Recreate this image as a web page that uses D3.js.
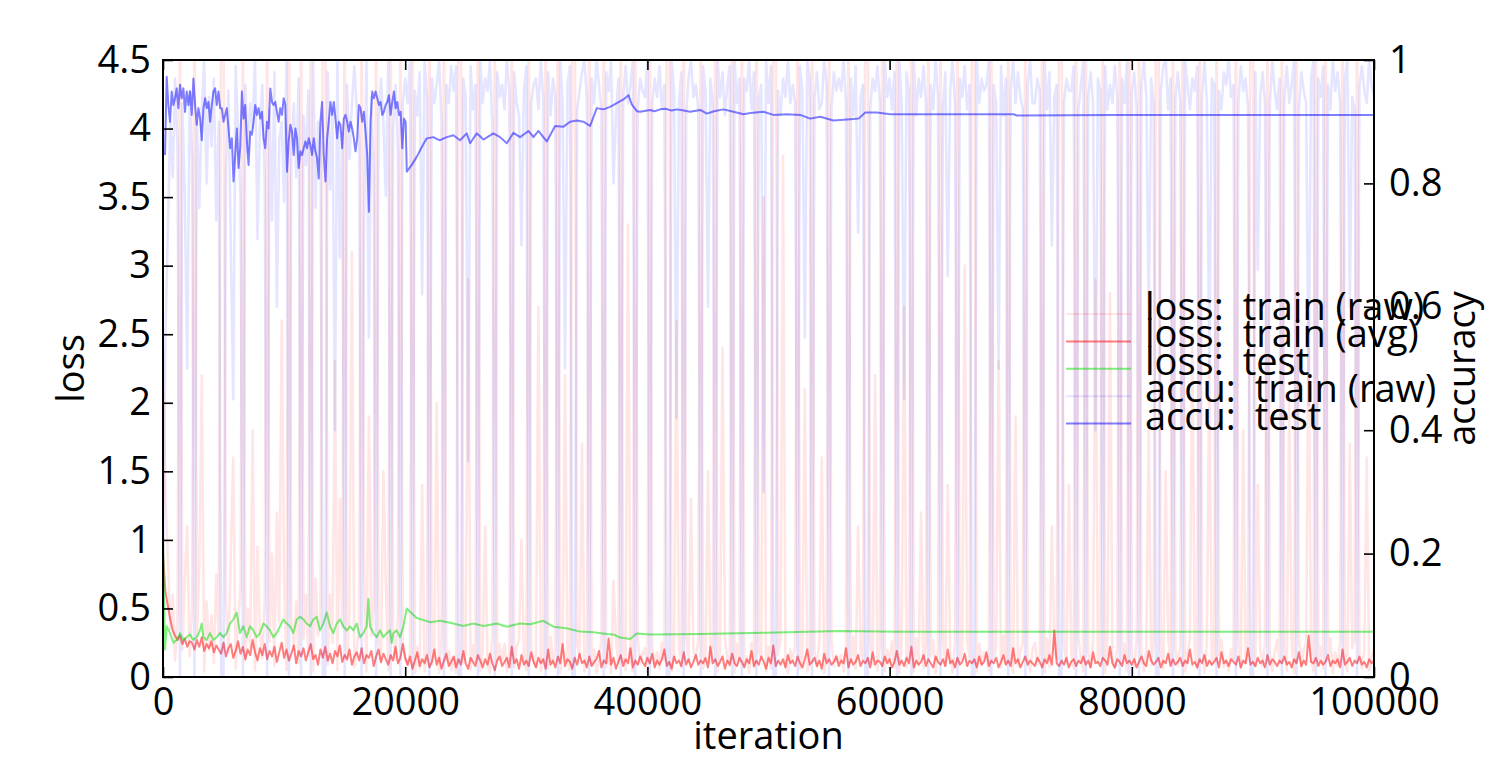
<!DOCTYPE html>
<html>
<head>
<meta charset="utf-8">
<script src="https://cdn.jsdelivr.net/npm/d3@7"></script>
<style>
  body { margin: 0; background: #fff; }
  text { font-family: "Open Sans", sans-serif; fill: #000; }
</style>
</head>
<body>
<svg id="chart" width="1494" height="757"></svg>
<script>
// raw training values, one every 200 iterations
const rawStep = 200;
const lossTrainRaw = [
  2.4,1.3,.9,.35,.6,.12,.45,5,.2,.7,1.1,.15,.5,5,.3,.8,2.2,.04,.55,.2,
  .45,.1,.75,.3,5,4.7,.55,.18,.9,1.6,.06,.4,.65,5,.12,.5,.22,1.8,.05,.95,
  .33,.14,.58,5,.26,.9,.08,1.2,.4,2.6,.7,.05,5,.45,.2,.55,.1,5,.28,.6,
  .16,5,.04,.72,.3,.42,5,5,.09,.6,.25,2.3,.05,1.3,.36,5,.12,.48,3.1,.07,
  .2,.38,5,.8,.04,1.9,.3,.52,5,.27,.1,1.5,.66,.05,5,.34,.13,.45,5,.24,
  .14,.08,.18,5,.03,.22,.06,1.4,.04,.15,5,.09,.16,2,.03,.28,5,.12,.19,.05,
  .14,.03,5,5,.1,.17,2.9,.05,.23,.11,5,.04,.2,1.1,.09,.03,.31,5,.12,.24,
  .12,.24,.04,.18,5,.07,.22,.27,1,.16,.05,5,.21,.12,.08,2.7,.04,.14,5,.06,
  .29,.1,.19,5,.03,.22,2.2,.13,.05,5,5,.24,.15,1.7,.04,.18,5,.09,.2,.03,
  .13,.26,5,.07,.16,.03,.7,.28,.1,5,.19,.05,3.3,.14,.04,5,.27,.1,.17,.21,
  .03,5,.21,.09,.18,.06,.25,.12,5,5,.04,.16,2.6,.23,.07,5,.3,.11,1.3,.19,
  .14,.26,5,.06,.17,1.5,.1,.22,5,.04,.2,2.4,.29,.13,.08,5,.03,.24,.11,5,
  .09,.15,.03,.25,.07,5,.18,.13,3.5,.04,.22,.06,5,5,.16,.28,3.8,.1,.03,.2,
  .12,.23,5,.06,.15,2.1,.04,.1,5,.19,.07,.27,1.6,.03,.13,5,.26,.08,.16,.11,
  .16,.04,.22,5,.11,.29,.06,1.1,.19,.13,5,5,.25,.09,2.2,.05,.23,5,.04,.2,
  .1,.26,.07,5,.03,.24,2.7,.07,.18,5,.04,.28,.1,1.2,.06,.23,5,.15,.27,.03,
  .2,5,.27,.08,1.4,.17,.03,.25,5,.11,.2,3,.26,.14,5,5,.04,.24,.09,.18,
  .15,.04,5,.13,.22,2.3,.07,.3,.1,5,.16,.03,1.9,.08,.19,.25,5,.12,.04,.2,
  .25,.09,.17,5,.03,.28,.07,1.1,.2,.13,5,5,.24,.1,1.4,.18,.06,5,.27,.14,
  .04,5,.19,.07,.26,2.9,.11,.16,5,.03,.28,2.8,.13,.06,.21,5,.1,.24,.04,5,
  .17,.07,.27,5,.14,.04,.2,1.8,.09,.25,5,5,.18,.06,1.5,.29,.11,5,.2,.08,
  .24,5,.04,.15,.28,2.5,.18,.06,5,.21,.03,.25,2.3,.09,.16,5,.16,.27,.07,.12,
  .04,.2,.13,5,.26,.06,1.8,.1,.28,5,5,.08,1.4,.21,.08,.25,5,.14,.04,.18,
  .27,.1,5,.19,.05,2,.24,.03,5,.29,.07,.2,.25,2.6,.15,.04,5,.11,.22,.06,
  5,.16,.28,.03,.18,.08,.26,5,.12,.04,1.7,.21,.27,5,.13,.06,.19,1.6,.05,.15,.2
];
const accTrainRaw = [
  .1,.55,.72,.9,.81,.97,.86,0,.93,.78,.5,.95,.84,0,.9,.76,.92,1,.8,.94,
  .86,.97,.74,.9,0,0,.82,.95,.7,.45,.99,.88,.78,0,.96,.85,.93,.89,1,.71,
  .89,.96,.8,0,.92,.74,.98,.6,.87,.9,.77,1,0,.85,.93,.81,.97,0,.91,.83,
  .95,0,1,.76,.9,.86,0,0,.98,.79,.92,.4,1,.68,.88,0,.96,.84,.93,.99,
  .92,.87,0,.73,1,.55,.94,.82,0,.91,.97,.9,.78,1,0,.89,.96,.85,0,.93,
  .97,.93,1,0,.95,.91,.98,.62,1,.94,0,.97,.93,.96,1,.9,0,.96,.93,.99,
  .95,.99,0,0,.97,.94,.35,.99,.92,.96,0,1,.93,.97,.95,1,.89,0,.98,.94,
  .96,.92,1,.95,0,.98,.93,.91,.7,.95,.99,0,.93,.96,.97,.92,1,.94,0,.98,
  .91,.97,.94,0,1,.93,.5,.96,.99,0,0,.92,.95,.98,1,.94,0,.97,.93,1,
  .96,.92,0,.98,.95,1,.8,.91,.97,0,.94,.99,.93,.96,1,0,.92,.97,.95,.94,
  1,0,.93,.97,.94,.99,.92,.96,0,0,1,.95,.42,.93,.98,0,.91,.97,1,.94,
  .96,.92,0,.99,.95,.6,.97,.93,0,1,.94,.98,.91,.96,.99,0,1,.93,.97,0,
  .97,.95,1,.92,.98,0,.94,.96,.3,1,.93,.99,0,0,.95,.91,.97,.94,1,.93,
  .96,.93,0,.99,.95,.55,1,.97,0,.94,.98,.92,.93,1,.96,0,.92,.98,.95,.97,
  .95,1,.93,0,.97,.91,.99,.72,.94,.96,0,0,.92,.97,.95,.99,.93,0,1,.94,
  .97,.92,.98,0,1,.93,.45,.98,.95,0,1,.91,.97,.94,.99,.93,0,.96,.92,1,
  .94,0,.92,.98,.65,.95,1,.93,0,.97,.94,.99,.92,.96,0,0,1,.93,.97,.95,
  .96,1,0,.96,.93,.5,.99,.91,.97,0,.95,1,.93,.98,.94,.92,0,.96,1,.93,
  .93,.97,.95,0,1,.92,.98,.7,.94,.96,0,0,.93,.97,.95,.95,.99,0,.92,.96,
  1,0,.94,.98,.93,.4,.97,.95,0,.99,.92,.96,.93,.99,.94,0,.97,.93,1,0,
  .95,.98,.92,0,.96,1,.94,.58,.97,.93,0,0,.95,.99,1,.92,.97,0,.94,.98,
  .93,0,1,.96,.92,.97,.95,.99,0,.94,1,.93,.5,.97,.96,0,.95,.92,.98,.96,
  1,.94,.96,0,.93,.99,.95,.97,.92,0,0,.98,.66,.94,.98,.93,0,.93,1,.95,
  .92,.97,0,.94,.99,.93,.96,1,0,.92,.98,.95,.93,.44,.97,1,0,.97,.94,.99,
  0,.96,.92,1,.95,.98,.93,0,.97,1,.6,.94,.92,0,.96,.99,.95,.93,1,.96,.94
];
const lossTrainAvg = [
  .9,.62,.52,.42,.34,.3,.27,.3,.24,.28,.22,.26,.25,.2,.27,.22,.29,.19,.24,.21,
  .26,.18,.23,.2,.17,.25,.15,.21,.24,.14,.19,.26,.17,.22,.13,.2,.16,.27,.18,.12,
  .21,.16,.24,.13,.19,.15,.22,.11,.18,.25,.14,.2,.12,.17,.23,.1,.19,.15,.21,.12,
  .18,.24,.13,.16,.09,.2,.14,.22,.12,.17,.1,.19,.15,.23,.11,.16,.13,.2,.09,.15,
  .18,.12,.21,.1,.16,.14,.19,.08,.15,.2,.11,.17,.13,.09,.16,.12,.22,.1,.14,.24,
  .14,.09,.15,.06,.12,.18,.08,.13,.1,.16,.07,.11,.2,.09,.14,.06,.12,.17,.08,.11,
  .15,.07,.13,.09,.19,.1,.06,.14,.11,.08,.16,.12,.07,.13,.09,.17,.1,.05,.12,.15,
  .08,.11,.14,.07,.22,.1,.13,.06,.16,.09,.12,.08,.18,.11,.07,.14,.1,.13,.06,.2,
  .09,.12,.07,.15,.1,.24,.08,.13,.11,.06,.14,.09,.17,.1,.12,.07,.15,.08,.11,.13,
  .19,.07,.12,.1,.28,.09,.14,.06,.11,.16,.08,.13,.1,.21,.07,.12,.09,.15,.11,.08,
  .14,.1,.17,.07,.12,.09,.13,.2,.08,.11,.06,.15,.1,.12,.08,.18,.09,.13,.07,.11,
  .16,.09,.12,.1,.14,.07,.22,.1,.13,.08,.11,.15,.06,.12,.09,.17,.1,.08,.14,.11,
  .07,.13,.1,.19,.08,.12,.09,.15,.11,.06,.14,.1,.23,.08,.12,.09,.13,.07,.16,.1,
  .12,.08,.15,.1,.07,.13,.2,.09,.11,.14,.08,.12,.06,.17,.1,.13,.09,.11,.15,.08,
  .12,.1,.21,.07,.13,.09,.11,.16,.08,.12,.1,.14,.07,.18,.09,.12,.11,.08,.15,.1,
  .13,.07,.11,.19,.09,.12,.08,.14,.1,.22,.07,.12,.09,.11,.16,.08,.13,.1,.07,.15,
  .11,.09,.13,.08,.2,.1,.12,.07,.14,.09,.11,.17,.08,.12,.1,.13,.07,.15,.09,.11,
  .18,.08,.12,.1,.14,.07,.11,.16,.09,.12,.08,.21,.1,.13,.07,.11,.15,.09,.12,.1,
  .08,.14,.11,.07,.13,.1,.16,.09,.34,.1,.08,.12,.09,.14,.07,.11,.13,.08,.12,.1,
  .15,.09,.12,.07,.18,.1,.11,.08,.14,.12,.09,.22,.1,.07,.13,.11,.08,.16,.1,.12,
  .09,.13,.07,.11,.15,.1,.08,.19,.12,.09,.11,.14,.07,.12,.1,.17,.08,.13,.09,.11,
  .14,.08,.12,.1,.2,.09,.11,.07,.13,.1,.16,.08,.12,.09,.11,.14,.07,.18,.1,.12,
  .08,.13,.11,.09,.15,.07,.12,.1,.21,.09,.11,.08,.14,.1,.12,.07,.16,.09,.13,.11,
  .08,.12,.1,.15,.09,.11,.07,.13,.1,.18,.08,.12,.09,.3,.11,.1,.14,.08,.12,.09,
  .11,.16,.08,.12,.1,.13,.07,.2,.09,.11,.14,.08,.12,.1,.15,.09,.11,.07,.13,.1,.12
];

// test accuracy, first 20000 iterations (one test every 138 iterations from 165)
const accTestEarly = [
  .846,.973,.927,.900,.949,.927,.938,.954,.922,.960,.938,.954,.916,.949,.927,.949,.911,.970,.927,.895,
  .922,.905,.870,.922,.938,.922,.932,.900,.927,.949,.954,.927,.949,.922,.922,.900,.911,.922,.889,.857,
  .873,.803,.846,.889,.825,.857,.949,.905,.927,.868,.830,.884,.879,.900,.927,.911,.922,.905,.916,.873,
  .857,.900,.889,.954,.932,.927,.932,.916,.900,.922,.911,.938,.927,.819,.868,.895,.884,.846,.889,.873,
  .825,.852,.846,.857,.868,.857,.873,.862,.846,.873,.852,.841,.808,.900,.932,.846,.803,.873,.900,.932,
  .911,.932,.905,.873,.900,.895,.857,.905,.911,.900,.884,.900,.889,.873,.852,.873,.927,.922,.900,.916,
  .884,.846,.754,.900,.949,.938,.949,.938,.927,.932,.911,.916,.927,.932,.943,.911,.932,.949,.922,.932,
  .911,.916,.857,.905,.900
];
// test accuracy after 20000 iterations: [iteration, accuracy]
const accTestLate = [
  [20130,.819],[20540,.830],[20950,.843],[21370,.859],[21780,.873],[22330,.875],[22600,.872],[22880,.870],
  [23430,.875],[23980,.878],[24530,.870],[25080,.881],[25360,.865],[25910,.881],[26200,.876],[26460,.871],
  [27280,.881],[27830,.875],[28390,.865],[28940,.882],[29490,.875],[30180,.885],[30590,.875],[31000,.885],
  [31690,.868],[32380,.893],[33070,.892],[33620,.900],[34170,.902],[34720,.900],[35270,.893],[35820,.922],
  [36370,.920],[36920,.924],[37470,.930],[38020,.936],[38440,.943],[38710,.928],[39130,.917],[39400,.916],
  [40230,.919],[40600,.917],[41050,.920],[41500,.921],[42000,.918],[42430,.920],[43000,.918],[43530,.916],
  [44360,.919],[44910,.913],[45500,.917],[46280,.920],[47110,.916],[47930,.912],[48500,.914],[49580,.916],
  [50410,.911],[51500,.912],[52620,.911],[53440,.905],[54270,.908],[55370,.902],[56750,.904],[57440,.905],
  [57990,.915],[58960,.915],[60050,.912],[70240,.912],[70500,.910],[78500,.911],[100000,.911]
];
// test loss: [iteration, loss]
const lossTest = [
  [0,1.0],[160,.2],[303,.37],[578,.32],[853,.25],[1129,.27],[1404,.32],[1679,.27],[1954,.29],[2230,.31],
  [2505,.27],[2780,.29],[3056,.34],[3193,.39],[3331,.29],[3606,.27],[3882,.32],[4157,.27],[4432,.29],[4707,.32],
  [4983,.29],[5258,.32],[5533,.39],[5809,.42],[6084,.47],[6359,.32],[6635,.37],[6910,.29],[7185,.37],[7460,.34],
  [7736,.29],[8011,.32],[8286,.39],[8562,.37],[8837,.34],[9112,.29],[9388,.32],[9663,.37],[9938,.42],[10213,.39],
  [10489,.37],[10764,.32],[11039,.42],[11315,.44],[11590,.42],[11865,.39],[12141,.37],[12416,.42],[12691,.44],[12966,.34],
  [13242,.39],[13517,.47],[13792,.37],[14068,.32],[14343,.39],[14618,.42],[14894,.37],[15169,.34],[15444,.37],[15719,.34],
  [15995,.39],[16270,.29],[16545,.32],[16821,.37],[16958,.57],[17096,.37],[17371,.32],[17647,.29],[17922,.34],[18197,.29],
  [18472,.32],[18748,.34],[18885,.25],[19023,.32],[19298,.34],[19574,.29],[19849,.37],[20130,.50],[20950,.43],[22050,.40],
  [22880,.41],[23710,.395],[24810,.372],[25630,.39],[26460,.372],[27560,.39],[28390,.367],[29490,.39],[30320,.385],[31410,.41],
  [32240,.367],[33340,.355],[34440,.331],[35550,.326],[36650,.314],[37200,.31],[37750,.288],[38570,.277],[39130,.318],[40230,.31],
  [44360,.314],[49870,.323],[55920,.335],[60870,.33],[100000,.33]
];

const xTicks = [0, 20000, 40000, 60000, 80000, 100000];
const lossTicks = [0, 0.5, 1, 1.5, 2, 2.5, 3, 3.5, 4, 4.5];
const accTicks = [0, 0.2, 0.4, 0.6, 0.8, 1];
const legendLabels = ["loss:\u2002train (raw)", "loss:\u2002train (avg)", "loss:\u2002test", "accu:\u2002train (raw)", "accu:\u2002test"];

const plotLeft = 163, plotRight = 1374, plotTop = 60, plotBottom = 677;
const fontSize = 38;

const svg = d3.select("#chart");

const x = d3.scaleLinear().domain([0, 100000]).range([plotLeft, plotRight]);
const yLoss = d3.scaleLinear().domain([0, 4.5]).range([plotBottom, plotTop]);
const yAcc = d3.scaleLinear().domain([0, 1]).range([plotBottom, plotTop]);

svg.append("clipPath").attr("id", "plotClip")
   .append("rect")
   .attr("x", plotLeft).attr("y", plotTop)
   .attr("width", plotRight - plotLeft).attr("height", plotBottom - plotTop);

const rawIters = lossTrainRaw.map((d, i) => i * rawStep);
const earlyIters = accTestEarly.map((d, i) => 165 + i * 138);
const accTest = earlyIters.map((it, i) => [it, accTestEarly[i]]).concat(accTestLate);

const series = [
  { pts: rawIters.map((it, i) => [it, lossTrainRaw[i]]), y: yLoss, color: "#ff0000", op: 0.1, w: 2.6 },
  { pts: rawIters.map((it, i) => [it, lossTrainAvg[i]]), y: yLoss, color: "#ff0000", op: 0.5, w: 2 },
  { pts: lossTest, y: yLoss, color: "#00e000", op: 0.5, w: 2 },
  { pts: rawIters.map((it, i) => [it, accTrainRaw[i]]), y: yAcc, color: "#0000ff", op: 0.1, w: 2.6 },
  { pts: accTest, y: yAcc, color: "#0000ff", op: 0.5, w: 2 }
];

const plot = svg.append("g").attr("clip-path", "url(#plotClip)");
series.forEach(s => {
  const line = d3.line().x(d => x(d[0])).y(d => s.y(d[1]));
  plot.append("path")
      .datum(s.pts)
      .attr("d", line)
      .attr("fill", "none")
      .attr("stroke", s.color)
      .attr("stroke-opacity", s.op)
      .attr("stroke-width", s.w)
      .attr("stroke-linejoin", "round");
});

// axes, ticks pointing inwards
function styleAxis(g) {
  g.select(".domain").remove();
  g.selectAll(".tick line").attr("stroke", "#000").attr("stroke-width", 1.6);
  g.selectAll(".tick text").style("font-size", fontSize + "px").attr("fill", "#000");
}

svg.append("g")
   .attr("transform", `translate(0,${plotBottom})`)
   .call(d3.axisBottom(x).tickValues(xTicks).tickSizeInner(-10).tickSizeOuter(0).tickFormat(d => d))
   .call(styleAxis)
   .call(g => g.selectAll(".tick text").attr("y", 0).attr("dy", "1.0em"));

svg.append("g")
   .attr("transform", `translate(0,${plotTop})`)
   .call(d3.axisTop(x).tickValues(xTicks).tickSizeInner(-10).tickSizeOuter(0).tickFormat(""))
   .call(styleAxis);

svg.append("g")
   .attr("transform", `translate(${plotLeft},0)`)
   .call(d3.axisLeft(yLoss).tickValues(lossTicks).tickSizeInner(-10).tickSizeOuter(0).tickFormat(d => d))
   .call(styleAxis)
   .call(g => g.selectAll(".tick text").attr("x", -12));

svg.append("g")
   .attr("transform", `translate(${plotRight},0)`)
   .call(d3.axisRight(yAcc).tickValues(accTicks).tickSizeInner(-10).tickSizeOuter(0).tickFormat(d => d))
   .call(styleAxis)
   .call(g => g.selectAll(".tick text").attr("x", 15));

svg.append("rect")
   .attr("x", plotLeft).attr("y", plotTop)
   .attr("width", plotRight - plotLeft).attr("height", plotBottom - plotTop)
   .attr("fill", "none").attr("stroke", "#000").attr("stroke-width", 2);

svg.append("text")
   .attr("x", (plotLeft + plotRight) / 2).attr("y", 749)
   .attr("text-anchor", "middle")
   .style("font-size", fontSize + "px")
   .text("iteration");

svg.append("text")
   .attr("transform", `translate(84,${(plotTop + plotBottom) / 2}) rotate(-90)`)
   .attr("text-anchor", "middle")
   .style("font-size", fontSize + "px")
   .text("loss");

svg.append("text")
   .attr("transform", `translate(1475,${(plotTop + plotBottom) / 2}) rotate(-90)`)
   .attr("text-anchor", "middle")
   .style("font-size", fontSize + "px")
   .text("accuracy");

// legend
const legend = svg.append("g");
series.forEach((s, i) => {
  const yy = 314 + i * 27.4;
  legend.append("line")
        .attr("x1", 1066).attr("x2", 1131)
        .attr("y1", yy).attr("y2", yy)
        .attr("stroke", s.color)
        .attr("stroke-opacity", s.op)
        .attr("stroke-width", 2);
  legend.append("text")
        .attr("x", 1145).attr("y", yy + 6)
        .style("font-size", fontSize + "px")
        .text(legendLabels[i]);
});
</script>
</body>
</html>
